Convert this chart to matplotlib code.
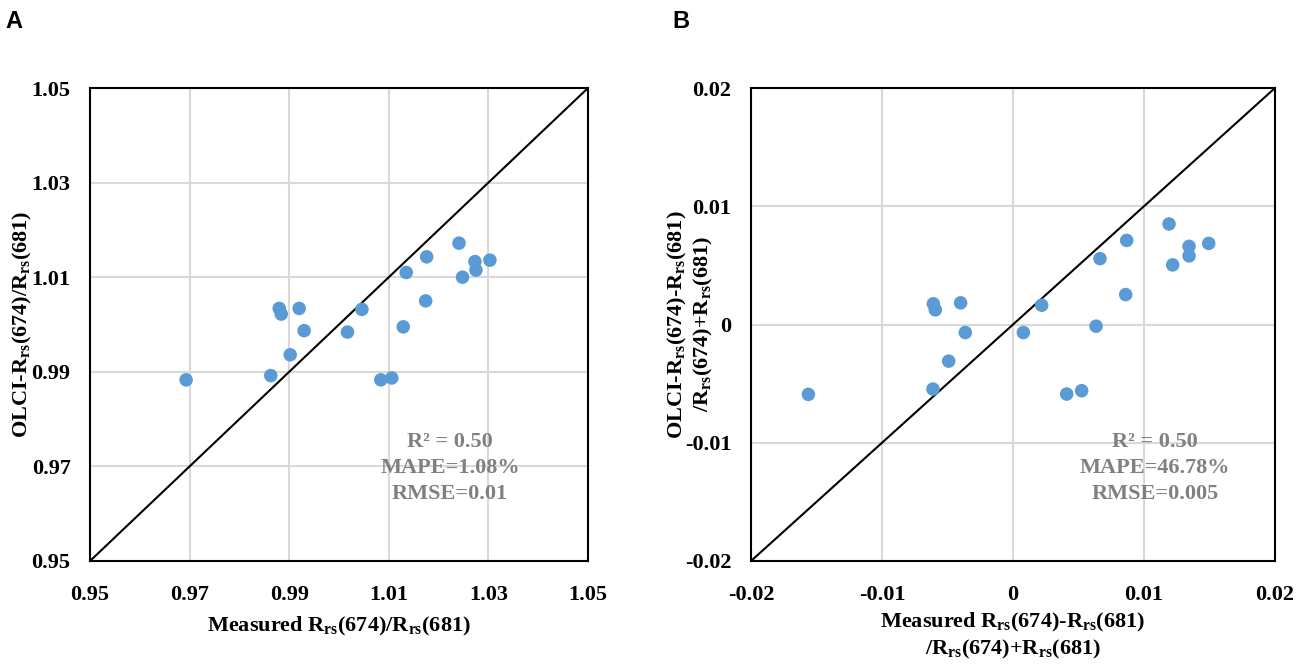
import matplotlib
matplotlib.use("Agg")
import matplotlib.pyplot as plt
import numpy as np

# 字体: Times 风格粗体
plt.rcParams['font.family'] = ['Liberation Serif', 'DejaVu Serif']
plt.rcParams['font.weight'] = 'bold'
plt.rcParams['mathtext.fontset'] = 'custom'
plt.rcParams['mathtext.rm'] = 'Liberation Serif:bold'
plt.rcParams['mathtext.bf'] = 'Liberation Serif:bold'
plt.rcParams['mathtext.it'] = 'Liberation Serif:bold'

# A: 比值 Rrs(674)/Rrs(681)
ratio_measured = [1.0241, 1.0176, 1.0273, 1.0303, 1.0275, 1.0135, 1.0248, 1.0174, 0.9880, 0.9884,
                  0.9920, 1.0046, 0.9930, 1.0017, 1.0129, 0.9902, 0.9863, 0.9693, 1.0084, 1.0106]
ratio_olci = [1.0172, 1.0143, 1.0133, 1.0136, 1.0115, 1.0110, 1.0100, 1.0050, 1.0034, 1.0022,
              1.0034, 1.0032, 0.9987, 0.9984, 0.9995, 0.9936, 0.9892, 0.9883, 0.9883, 0.9887]
ratio_ticks = [0.95, 0.97, 0.99, 1.01, 1.03, 1.05]
ratio_stats = ["R² = 0.50", "MAPE=1.08%", "RMSE=0.01"]

# B: 归一化差值
diff_measured = [-0.01562, -0.00608, -0.00593, -0.0040, -0.00364, -0.00491, -0.00611, 0.00079, 0.00219, 0.00634,
                 0.00664, 0.00868, 0.0086, 0.00410, 0.00524, 0.01191, 0.01344, 0.01344, 0.01219, 0.01494]
diff_olci = [-0.00591, 0.00175, 0.00124, 0.00183, -0.00068, -0.0031, -0.00546, -0.00068, 0.00163, -0.00014,
             0.00557, 0.00711, 0.00253, -0.00588, -0.0056, 0.0085, 0.00661, 0.0058, 0.00504, 0.00686]
diff_ticks = [-0.02, -0.01, 0, 0.01, 0.02]
diff_ticklabels = ["-0.02", "-0.01", "0", "0.01", "0.02"]
diff_stats = ["R² = 0.50", "MAPE=46.78%", "RMSE=0.005"]

W, H = 1299, 668
fig = plt.figure(figsize=(W / 100, H / 100), dpi=100)
axA = fig.add_axes([90 / W, 107 / H, 498 / W, 473 / H])
axB = fig.add_axes([751 / W, 107 / H, 524 / W, 473 / H])

dot_color = "#5B9BD5"
grid_color = "#D9D9D9"
stat_color = "#808080"


def style_axes(ax, ticks, labels):
    lo, hi = ticks[0], ticks[-1]
    ax.set_xlim(lo, hi)
    ax.set_ylim(lo, hi)
    ax.set_xticks(ticks)
    ax.set_yticks(ticks)
    ax.set_xticklabels(labels)
    ax.set_yticklabels(labels)
    ax.grid(True, color=grid_color, linewidth=1.5)
    ax.set_axisbelow(True)
    ax.tick_params(axis="x", length=0, pad=17, labelsize=16)
    ax.tick_params(axis="y", length=0, pad=14, labelsize=16)
    for s in ax.spines.values():
        s.set_linewidth(1.5)
        s.set_color("black")
    # 1:1 线
    ax.plot([lo, hi], [lo, hi], color="black", linewidth=1.5, zorder=2)


style_axes(axA, ratio_ticks, [f"{t:.2f}" for t in ratio_ticks])
axA.scatter(ratio_measured, ratio_olci, s=95, color=dot_color, edgecolors="none", zorder=3)
axA.set_xlabel(r"Measured R$_{\mathrm{rs}}$(674)/R$_{\mathrm{rs}}$(681)", fontsize=16, fontweight="bold")
axA.set_ylabel(r"OLCI-R$_{\mathrm{rs}}$(674)/R$_{\mathrm{rs}}$(681)", fontsize=16, fontweight="bold")
axA.xaxis.set_label_coords(0.5, -0.114)
axA.yaxis.set_label_coords(-0.112, 0.5)
for i, t in enumerate(ratio_stats):
    axA.text(0.723, 0.252 - i * 0.055, t, transform=axA.transAxes, ha="center", va="center",
             fontsize=16, fontweight="bold", color=stat_color)

style_axes(axB, diff_ticks, diff_ticklabels)
axB.scatter(diff_measured, diff_olci, s=95, color=dot_color, edgecolors="none", zorder=3)
axB.set_xlabel("Measured R$_{\\mathrm{rs}}$(674)-R$_{\\mathrm{rs}}$(681)\n/R$_{\\mathrm{rs}}$(674)+R$_{\\mathrm{rs}}$(681)",
               fontsize=16, fontweight="bold", linespacing=1.2)
axB.set_ylabel("OLCI-R$_{\\mathrm{rs}}$(674)-R$_{\\mathrm{rs}}$(681)\n/R$_{\\mathrm{rs}}$(674)+R$_{\\mathrm{rs}}$(681)",
               fontsize=16, fontweight="bold", linespacing=1.2)
axB.xaxis.set_label_coords(0.5, -0.106)
axB.yaxis.set_label_coords(-0.068, 0.5)
for i, t in enumerate(diff_stats):
    axB.text(0.771, 0.252 - i * 0.055, t, transform=axB.transAxes, ha="center", va="center",
             fontsize=16, fontweight="bold", color=stat_color)

# 面板字母
fig.text(5 / W, 1 - 28 / H, "A", family=["Liberation Sans", "DejaVu Sans"], fontsize=17, fontweight="bold")
fig.text(672 / W, 1 - 28 / H, "B", family=["Liberation Sans", "DejaVu Sans"], fontsize=17, fontweight="bold")

fig.savefig("out.png", dpi=100)
